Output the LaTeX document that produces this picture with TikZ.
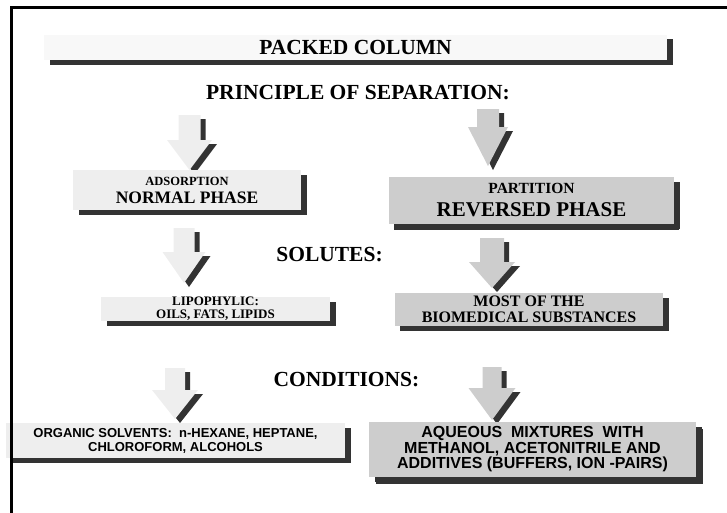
\documentclass[tikz,border=0pt]{standalone}
\usepackage{fontspec}
\setmainfont{Liberation Serif}
\newfontfamily\arialfont{Liberation Sans}
\usetikzlibrary{shadows}
\definecolor{lightg}{HTML}{EEEEEE}
\definecolor{midg}{HTML}{CDCDCD}
\definecolor{bannerg}{HTML}{F8F8F8}
\definecolor{shadowc}{HTML}{333333}
\newcommand{\fsz}[1]{\fontsize{#1}{#1}\selectfont}
% cx, top, head y, tip y, shaft half width, head half width, fill
\newcommand{\blockarrow}[7]{%
  \fill[shadowc, xshift=5pt, yshift=-4pt] (#1-#5,#2) -- (#1+#5,#2) -- (#1+#5,#3) -- (#1+#6,#3) -- (#1,#4) -- (#1-#6,#3) -- (#1-#5,#3) -- cycle;
  \fill[#7] (#1-#5,#2) -- (#1+#5,#2) -- (#1+#5,#3) -- (#1+#6,#3) -- (#1,#4) -- (#1-#6,#3) -- (#1-#5,#3) -- cycle;
}
\begin{document}
\begin{tikzpicture}[x=1pt,y=-1pt,
  box/.style={inner sep=0pt, align=center, font=\bfseries,
    general shadow={fill=shadowc, shadow xshift=6pt, shadow yshift=-5pt}},
  head/.style={inner sep=0pt, font=\fontsize{21.5}{24}\selectfont\bfseries},
  frameline/.style={line width=3pt, line cap=rect}]
\useasboundingbox (0,0) rectangle (727,512);

% banner and headings
\node[box, fill=bannerg, minimum width=623pt, minimum height=25pt,
      general shadow={fill=shadowc, shadow xshift=6pt, shadow yshift=-4pt},
      font=\fontsize{21.5}{24}\selectfont\bfseries] (banner) at (355.5,47.5) {PACKED COLUMN};
\node[head] (principle) at (358,93) {PRINCIPLE OF SEPARATION:};
\node[head] (solutes) at (329.5,255) {SOLUTES:};
\node[head] (conditions) at (346.5,380) {CONDITIONS:};

% arrows
\blockarrow{189.5}{115}{140}{170}{11}{22.5}{lightg}
\blockarrow{488}{109}{127}{166}{11}{20}{midg}
\blockarrow{184}{228}{252}{283}{10.5}{21.5}{lightg}
\blockarrow{492}{238}{262}{288}{12}{23}{midg}
\blockarrow{175}{368}{390}{419}{10}{23}{lightg}
\blockarrow{492}{367}{388}{420}{9.5}{23.5}{midg}

% boxes
\node[box, fill=lightg, minimum width=228pt, minimum height=40pt,
      font=\fontsize{10}{18}\selectfont\bfseries] (normal) at (187,190)
  {{\fsz{12.5}ADSORPTION}\\{\fsz{17.5}NORMAL PHASE}};
\node[box, fill=midg, minimum width=285pt, minimum height=47pt,
      general shadow={fill=shadowc, shadow xshift=5pt, shadow yshift=-6pt},
      font=\fontsize{10}{23}\selectfont\bfseries] (reversed) at (531.5,200.5)
  {{\fsz{15.5}PARTITION}\\{\fsz{21}REVERSED PHASE}};
\node[box, fill=lightg, minimum width=229pt, minimum height=24pt,
      font=\fontsize{13}{13}\selectfont\bfseries] (lipo) at (215.5,309)
  {LIPOPHYLIC:\\OILS, FATS, LIPIDS};
\node[box, fill=midg, minimum width=268pt, minimum height=33pt,
      general shadow={fill=shadowc, shadow xshift=5pt, shadow yshift=-5pt},
      font=\fontsize{16}{16}\selectfont\bfseries] (most) at (529,309.5)
  {MOST OF THE\\BIOMEDICAL SUBSTANCES};
\node[box, fill=lightg, minimum width=339pt, minimum height=35pt,
      font=\fontsize{13}{14}\selectfont\arialfont\bfseries] (organic) at (175.5,440.5)
  {ORGANIC SOLVENTS:\ \ n-HEXANE, HEPTANE,\\CHLOROFORM, ALCOHOLS};
\node[box, fill=midg, minimum width=327pt, minimum height=55pt,
      general shadow={fill=shadowc, shadow xshift=7pt, shadow yshift=-7pt},
      font=\fontsize{16}{15.5}\selectfont\arialfont\bfseries] (aqueous) at (532.5,449.5)
  {AQUEOUS\ \ MIXTURES\ \ WITH\\METHANOL, ACETONITRILE AND\\ADDITIVES (BUFFERS, ION -PAIRS)};

% frame
\coordinate (fbl) at (11.5,512);
\coordinate (ftl) at (11.5,7);
\coordinate (ftr) at (727,7);
\draw[frameline] (fbl) -- (ftl) -- (ftr);
\end{tikzpicture}
\end{document}
